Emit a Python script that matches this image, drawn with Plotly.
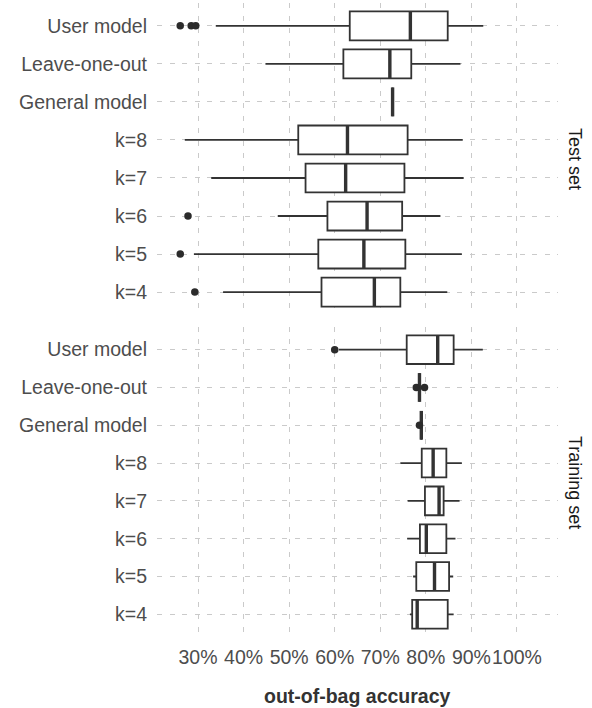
import plotly.graph_objects as go

categories = ["User model", "Leave-one-out", "General model", "k=8", "k=7", "k=6", "k=5", "k=4"]

# Test set statistics (percent)
test_lower = [33.9, 44.8, 72.7, 27.1, 32.9, 47.5, 29.1, 35.5]
test_q1 = [63.3, 61.9, 72.7, 52.0, 53.6, 58.4, 56.4, 57.1]
test_median = [76.6, 72.1, 72.7, 62.8, 62.4, 67.1, 66.4, 68.7]
test_q3 = [84.8, 76.8, 72.7, 76.0, 75.3, 74.8, 75.5, 74.4]
test_upper = [92.6, 87.6, 72.7, 88.1, 88.3, 83.2, 87.9, 84.7]
test_outlier_cat = ["User model", "User model", "User model", "k=6", "k=5", "k=4"]
test_outlier_val = [26.1, 28.5, 29.5, 27.8, 26.1, 29.3]

# Training set statistics (percent)
train_lower = [60.9, 78.6, 79.0, 74.4, 76.0, 75.9, 77.2, 76.5]
train_q1 = [75.8, 78.6, 79.0, 79.1, 79.8, 78.7, 77.9, 77.0]
train_median = [82.6, 78.6, 79.0, 81.6, 82.9, 80.1, 81.9, 78.1]
train_q3 = [86.1, 78.6, 79.0, 84.5, 83.9, 84.5, 85.1, 84.8]
train_upper = [92.5, 78.6, 79.0, 87.9, 87.4, 86.5, 86.0, 86.1]
train_outlier_cat = ["User model", "Leave-one-out", "Leave-one-out", "General model"]
train_outlier_val = [60.0, 77.9, 79.7, 78.6]

x_ticks = [30, 40, 50, 60, 70, 80, 90, 100]
x_ticktext = ["30%", "40%", "50%", "60%", "70%", "80%", "90%", "100%"]

panel_labels = ["Test set", "Training set"]

# ---------------------------------------------------------------
n = len(categories)
pos = {c: n - i for i, c in enumerate(categories)}  # top category highest
positions = [pos[c] for c in categories]
BOX_W = 0.76
LINE_C = "#333333"
FONT = "Liberation Sans, Arial, sans-serif"

fig = go.Figure()


def add_panel(lower, q1, med, q3, upper, out_cat, out_val, xa, ya):
    fig.add_trace(go.Box(
        y=positions, q1=q1, median=med, q3=q3,
        lowerfence=lower, upperfence=upper,
        orientation="h", width=BOX_W, whiskerwidth=0,
        fillcolor="white", line=dict(color=LINE_C, width=1.8),
        boxpoints=False, hoverinfo="skip", showlegend=False,
        xaxis=xa, yaxis=ya,
    ))
    mx, my = [], []
    for p, m in zip(positions, med):
        mx += [m, m, None]
        my += [p - BOX_W / 2, p + BOX_W / 2, None]
    fig.add_trace(go.Scatter(
        x=mx, y=my, mode="lines", line=dict(color=LINE_C, width=3.4),
        hoverinfo="skip", showlegend=False, xaxis=xa, yaxis=ya,
    ))
    fig.add_trace(go.Scatter(
        x=out_val, y=[pos[c] for c in out_cat], mode="markers",
        marker=dict(color="#2B2B2B", size=7.5),
        hoverinfo="skip", showlegend=False, xaxis=xa, yaxis=ya,
    ))


add_panel(test_lower, test_q1, test_median, test_q3, test_upper,
          test_outlier_cat, test_outlier_val, "x2", "y2")
add_panel(train_lower, train_q1, train_median, train_q3, train_upper,
          train_outlier_cat, train_outlier_val, "x", "y")

grid = dict(showgrid=True, gridcolor="#CACACA", gridwidth=1.4, griddash="5px,7.5px",
            zeroline=False, showline=False, ticks="")

xcommon = dict(range=[21, 109], tickvals=x_ticks, ticktext=x_ticktext, tickangle=0, **grid)
ycommon = dict(range=[0.4, n + 0.6], tickvals=positions, ticktext=categories,
               tickfont=dict(family=FONT, size=19.5, color="#4D4D4D"),
               ticklabelstandoff=9, **grid)

fig.update_layout(
    width=592, height=708,
    margin=dict(l=157, r=34, t=3, b=71),
    paper_bgcolor="white", plot_bgcolor="white",
    font=dict(family=FONT),
    hovermode=False,
    xaxis=dict(domain=[0, 1], anchor="y", ticklabelstandoff=6,
               tickfont=dict(family=FONT, size=19.5, color="#4D4D4D"), **xcommon),
    xaxis2=dict(domain=[0, 1], anchor="y2", matches="x", showticklabels=False, **xcommon),
    yaxis=dict(domain=[0, 0.489], anchor="x", **ycommon),
    yaxis2=dict(domain=[0.508, 1], anchor="x2", **ycommon),
    annotations=[
        dict(text=panel_labels[0], xref="paper", yref="y2 domain", x=1.0424, y=0.5,
             textangle=90, showarrow=False, xanchor="center", yanchor="middle",
             font=dict(family=FONT, size=18, color="#1A1A1A")),
        dict(text=panel_labels[1], xref="paper", yref="y domain", x=1.0424, y=0.5,
             textangle=90, showarrow=False, xanchor="center", yanchor="middle",
             font=dict(family=FONT, size=18, color="#1A1A1A")),
        dict(text="<b>out-of-bag accuracy</b>", xref="paper", yref="paper",
             x=0.5, y=-0.0926, showarrow=False, xanchor="center", yanchor="middle",
             font=dict(family=FONT, size=19.5, color="#333333")),
    ],
)

fig.write_html("out.html", config={"displayModeBar": False},
               post_script="document.body.style.margin='0';document.body.style.overflow='hidden';")
